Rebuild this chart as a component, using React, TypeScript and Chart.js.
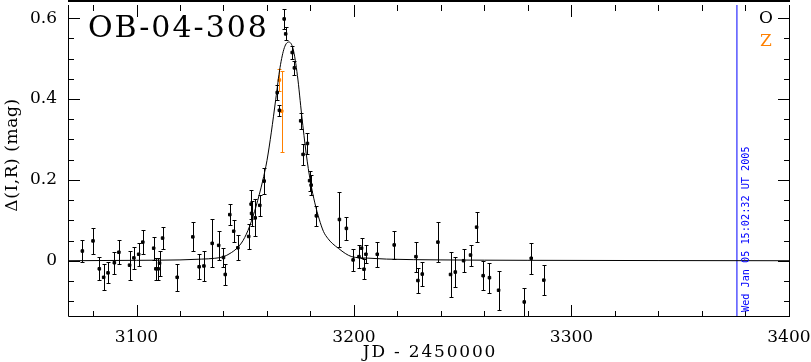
import React, { useEffect, useRef } from "react";
import { Chart, registerables } from "chart.js";

Chart.register(...registerables);

// ---------- data ----------
const titleText = "OB-04-308";
const xAxisTitle = "JD - 2450000";
const yAxisTitle = "Δ(I,R) (mag)";
const legendLabels = ["O", "Z"];
const nowLabel = "Wed Jan 05 15:02:32 UT 2005";
const nowJD = 3376.1;

const xRange = [3068.5, 3400.5];
const yRange = [-0.1392, 0.6325];
const xTicks = [3100, 3200, 3300, 3400];
const xTickLabels = ["3100", "3200", "3300", "3400"];
const yTicks = [0, 0.2, 0.4, 0.6];
const yTickLabels = ["0", "0.2", "0.4", "0.6"];
const xMinorStep = 20;
const yMinorStep = 0.05;

// OGLE (O) photometry
const obsT = [
  3075.1, 3080.0, 3082.9, 3084.9, 3086.9, 3089.8, 3091.9, 3096.8, 3098.8, 3101.0,
  3102.9, 3107.9, 3108.9, 3110.0, 3110.6, 3112.0, 3118.7, 3125.9, 3128.8, 3131.0,
  3134.8, 3137.8, 3140.0, 3140.8, 3142.9, 3144.7, 3146.6, 3151.6, 3152.7, 3152.9,
  3154.6, 3156.7, 3158.7, 3164.7, 3165.7, 3167.9, 3168.6, 3171.6, 3172.6, 3175.5,
  3176.6, 3178.6, 3179.6, 3180.3, 3182.7, 3193.3, 3196.5, 3199.6, 3202.3, 3203.5,
  3204.6, 3205.5, 3210.7, 3218.5, 3228.5, 3229.4, 3231.4, 3238.6, 3244.4, 3246.6,
  3250.4, 3253.6, 3256.4, 3259.4, 3262.3, 3266.5, 3278.3, 3281.5, 3287.3,
];
const obsMag = [
  0.024, 0.049, -0.020, -0.041, -0.030, -0.005, 0.021, -0.011, 0.007, 0.016,
  0.046, 0.031, -0.020, -0.020, -0.006, 0.056, -0.041, 0.059, -0.015, -0.013,
  0.043, 0.038, 0.008, -0.034, 0.114, 0.073, 0.032, 0.060, 0.140, 0.117,
  0.106, 0.137, 0.197, 0.416, 0.372, 0.598, 0.561, 0.515, 0.477, 0.346,
  0.263, 0.290, 0.198, 0.187, 0.111, 0.102, 0.080, 0.002, 0.010, 0.031,
  -0.021, 0.016, 0.016, 0.039, 0.010, -0.049, -0.033, 0.046, -0.034, -0.028,
  0.000, 0.014, 0.083, -0.037, -0.042, -0.073, -0.102, 0.006, -0.048,
];
const obsErr = [
  0.028, 0.032, 0.028, 0.032, 0.026, 0.027, 0.030, 0.036, 0.028, 0.028,
  0.030, 0.028, 0.027, 0.027, 0.031, 0.028, 0.033, 0.036, 0.031, 0.037,
  0.059, 0.035, 0.024, 0.026, 0.026, 0.027, 0.031, 0.032, 0.036, 0.030,
  0.046, 0.026, 0.033, 0.018, 0.014, 0.024, 0.016, 0.015, 0.018, 0.020,
  0.026, 0.025, 0.025, 0.024, 0.025, 0.067, 0.029, 0.028, 0.029, 0.024,
  0.025, 0.022, 0.031, 0.034, 0.037, 0.032, 0.030, 0.050, 0.056, 0.037,
  0.029, 0.026, 0.037, 0.036, 0.037, 0.048, 0.035, 0.038, 0.037,
];

// Z photometry
const zT = [3165.7, 3166.8];
const zMag = [0.447, 0.370];
const zErr = [0.027, 0.100];

// model curve
const modelT = [
  3068.5, 3100, 3120, 3130, 3136, 3140, 3143, 3146, 3149, 3152,
  3155, 3158, 3160, 3162, 3164, 3166, 3168, 3170, 3172, 3174,
  3176, 3178, 3180, 3182, 3184, 3186, 3188, 3190, 3193, 3196,
  3199, 3206, 3215, 3240, 3280, 3400.5,
];
const modelMag = [
  0.000, 0.001, 0.002, 0.004, 0.006, 0.010, 0.018, 0.030, 0.050, 0.085,
  0.135, 0.197, 0.248, 0.318, 0.398, 0.478, 0.527, 0.541, 0.524, 0.458,
  0.358, 0.266, 0.195, 0.143, 0.103, 0.072, 0.055, 0.043, 0.030, 0.018,
  0.010, 0.0065, 0.004, 0.002, 0.001, 0.000,
];

const BLACK = "#000000";
const ORANGE = "#ff8000";
const BLUE = "#0000ff";
const SERIF = "'DejaVu Serif', serif";

const errorBarsPlugin = {
  id: "errorBars",
  beforeDatasetsDraw(chart: any) {
    const { ctx, chartArea } = chart;
    const ys = chart.scales.y;
    chart.data.datasets.forEach((ds: any, i: number) => {
      if (!ds.errors) return;
      const meta = chart.getDatasetMeta(i);
      ctx.save();
      ctx.beginPath();
      ctx.rect(chartArea.left, chartArea.top, chartArea.right - chartArea.left, chartArea.bottom - chartArea.top);
      ctx.clip();
      ctx.strokeStyle = ds.backgroundColor;
      ctx.lineWidth = 1;
      meta.data.forEach((pt: any, j: number) => {
        const d = ds.data[j];
        const x = Math.round(pt.x) + 0.5;
        const yT = Math.round(ys.getPixelForValue(d.y + ds.errors[j])) + 0.5;
        const yB = Math.round(ys.getPixelForValue(d.y - ds.errors[j])) + 0.5;
        ctx.beginPath();
        ctx.moveTo(x, yT);
        ctx.lineTo(x, yB);
        ctx.moveTo(x - 2, yT);
        ctx.lineTo(x + 2, yT);
        ctx.moveTo(x - 2, yB);
        ctx.lineTo(x + 2, yB);
        ctx.stroke();
      });
      ctx.restore();
    });
  },
};

const framePlugin = {
  id: "frame",
  afterDraw(chart: any) {
    const { ctx, chartArea: ca } = chart;
    const xs = chart.scales.x;
    const ys = chart.scales.y;
    ctx.save();
    ctx.strokeStyle = BLACK;
    ctx.fillStyle = BLACK;
    ctx.lineWidth = 1;
    // frame
    ctx.beginPath();
    ctx.moveTo(ca.left + 0.5, ca.top);
    ctx.lineTo(ca.left + 0.5, ca.bottom - 0.5);
    ctx.lineTo(ca.right - 0.5, ca.bottom - 0.5);
    ctx.lineTo(ca.right - 0.5, ca.top);
    ctx.stroke();
    ctx.fillRect(ca.left, 0, ca.right - ca.left, 2);

    const vx = (v: number) => Math.round(xs.getPixelForValue(v)) + 0.5;
    const vy = (v: number) => Math.round(ys.getPixelForValue(v)) + 0.5;
    ctx.beginPath();
    const xMaj = new Set(xTicks);
    for (let v = Math.ceil(xRange[0] / xMinorStep) * xMinorStep; v <= xRange[1]; v += xMinorStep) {
      const len = xMaj.has(v) ? 12 : 6;
      const px = Math.min(vx(v), ca.right - 0.5);
      ctx.moveTo(px, ca.bottom);
      ctx.lineTo(px, ca.bottom - len);
      ctx.moveTo(px, ca.top);
      ctx.lineTo(px, ca.top + len);
    }
    const yMaj = yTicks.map((t) => Math.round(t * 1000));
    for (let k = Math.ceil(yRange[0] / yMinorStep); k * yMinorStep <= yRange[1]; k++) {
      const v = k * yMinorStep;
      const len = yMaj.includes(Math.round(v * 1000)) ? 12 : 6;
      const py = vy(v);
      ctx.moveTo(ca.left, py);
      ctx.lineTo(ca.left + len, py);
      ctx.moveTo(ca.right, py);
      ctx.lineTo(ca.right - len, py);
    }
    ctx.stroke();

    // title
    ctx.textAlign = "left";
    ctx.textBaseline = "alphabetic";
    ctx.font = `30px ${SERIF}`;
    (ctx as any).letterSpacing = "2px";
    ctx.fillText(titleText, 88, 37);
    (ctx as any).letterSpacing = "0px";

    // legend
    ctx.font = `17px ${SERIF}`;
    ctx.fillStyle = BLACK;
    ctx.fillText(legendLabels[0], 759, 23);
    ctx.fillStyle = ORANGE;
    ctx.fillText(legendLabels[1], 760, 46);

    // x title
    ctx.fillStyle = BLACK;
    ctx.textAlign = "center";
    (ctx as any).letterSpacing = "1.8px";
    ctx.fillText(xAxisTitle, (ca.left + ca.right) / 2 + 1, 357);
    (ctx as any).letterSpacing = "0.6px";
    // y title
    ctx.save();
    ctx.translate(17, 155);
    ctx.rotate(-Math.PI / 2);
    ctx.fillText(yAxisTitle, 0, 0);
    ctx.restore();
    (ctx as any).letterSpacing = "0px";

    // now label
    ctx.save();
    ctx.fillStyle = BLUE;
    ctx.font = "10.2px 'DejaVu Sans Mono', monospace";
    ctx.translate(vx(nowJD) + 11, 312);
    ctx.rotate(-Math.PI / 2);
    ctx.textAlign = "left";
    ctx.fillText(nowLabel, 0, 0);
    ctx.restore();

    ctx.restore();
  },
};

export default function App() {
  const canvasRef = useRef<HTMLCanvasElement | null>(null);

  useEffect(() => {
    if (!canvasRef.current) return;
    const chart = new Chart(canvasRef.current, {
      type: "scatter",
      data: {
        datasets: [
          {
            type: "line",
            label: "model",
            data: modelT.map((t, i) => ({ x: t, y: modelMag[i] })),
            borderColor: BLACK,
            borderWidth: 1,
            pointRadius: 0,
            cubicInterpolationMode: "monotone",
            fill: false,
          } as any,
          {
            type: "line",
            label: "now",
            data: [
              { x: nowJD, y: yRange[0] },
              { x: nowJD, y: yRange[1] },
            ],
            borderColor: BLUE,
            borderWidth: 1,
            pointRadius: 0,
            fill: false,
          } as any,
          {
            label: legendLabels[0],
            data: obsT.map((t, i) => ({ x: t, y: obsMag[i] })),
            errors: obsErr,
            backgroundColor: BLACK,
            borderColor: BLACK,
            borderWidth: 1,
            pointStyle: "rect",
            pointRadius: 1.8,
          } as any,
          {
            label: legendLabels[1],
            data: zT.map((t, i) => ({ x: t, y: zMag[i] })),
            errors: zErr,
            backgroundColor: ORANGE,
            borderColor: ORANGE,
            borderWidth: 1,
            pointStyle: "rect",
            pointRadius: 1.8,
          } as any,
        ],
      },
      options: {
        animation: false,
        responsive: false,
        maintainAspectRatio: false,
        layout: { padding: { top: 1, right: 21, left: 0, bottom: 0 } },
        plugins: {
          legend: { display: false },
          tooltip: { enabled: false },
          title: { display: false },
        },
        events: [],
        scales: {
          x: {
            type: "linear",
            position: "bottom",
            min: xRange[0],
            max: xRange[1],
            grid: { display: false, drawTicks: false },
            border: { display: false },
            ticks: {
              color: BLACK,
              font: { family: SERIF, size: 17 },
              padding: 10,
              maxRotation: 0,
              autoSkip: false,
              callback: (v: any) => {
                const i = xTicks.indexOf(Number(v));
                return i >= 0 ? xTickLabels[i] : "";
              },
            },
            afterBuildTicks: (s: any) => {
              s.ticks = xTicks.map((v) => ({ value: v }));
            },
            afterFit: (s: any) => {
              s.height = 45;
              s.paddingLeft = 0;
              s.paddingRight = 0;
            },
          },
          y: {
            type: "linear",
            min: yRange[0],
            max: yRange[1],
            grid: { display: false, drawTicks: false },
            border: { display: false },
            ticks: {
              color: BLACK,
              font: { family: SERIF, size: 17 },
              padding: 11,
              callback: (v: any) => {
                const i = yTicks.findIndex((t) => Math.abs(t - Number(v)) < 1e-6);
                return i >= 0 ? yTickLabels[i] : "";
              },
            },
            afterBuildTicks: (s: any) => {
              s.ticks = yTicks.map((v) => ({ value: v }));
            },
            afterFit: (s: any) => {
              s.width = 68;
              s.paddingTop = 0;
              s.paddingBottom = 0;
            },
          },
        },
      } as any,
      plugins: [errorBarsPlugin, framePlugin],
    });
    return () => chart.destroy();
  }, []);

  return (
    <div style={{ position: "fixed", left: 0, top: 0, width: 811, height: 362, background: "#fff" }}>
      <canvas ref={canvasRef} width={811} height={362} style={{ width: 811, height: 362, display: "block" }} />
    </div>
  );
}
